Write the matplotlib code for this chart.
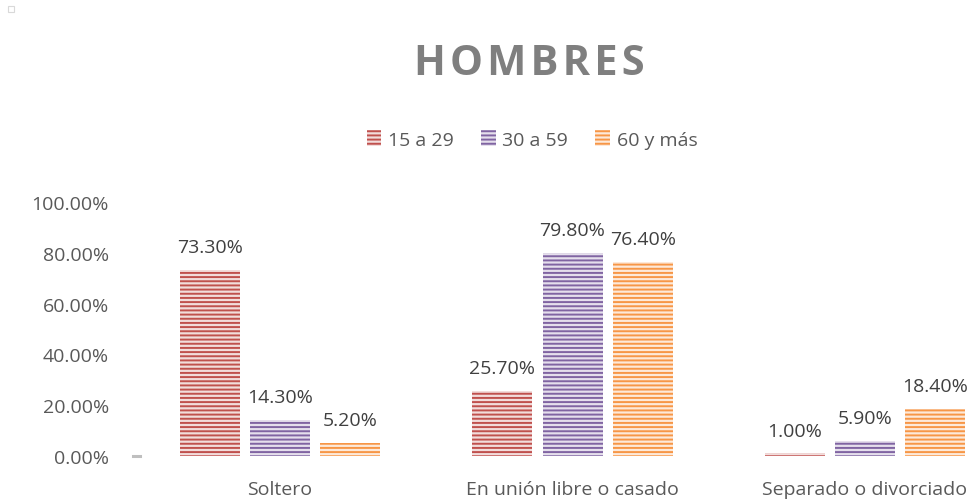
import matplotlib.pyplot as plt
import numpy as np
from matplotlib.patches import Rectangle

plt.rcParams['font.family'] = ['Open Sans', 'DejaVu Sans']
plt.rcParams['hatch.linewidth'] = 1.4

categories = ['Soltero', 'En unión libre o casado', 'Separado o divorciado']
series = ['15 a 29', '30 a 59', '60 y más']
values = {
    '15 a 29': [73.3, 25.7, 1.0],
    '30 a 59': [14.3, 79.8, 5.9],
    '60 y más': [5.2, 76.4, 18.4],
}
colors = ['#C0504D', '#8064A2', '#F79646']
light = ['#F2DCDB', '#E5DFEC', '#FDE9D9']

fig = plt.figure(figsize=(9.8, 5.02), dpi=100)
ax = fig.add_axes([120 / 980, 45 / 502, 860 / 980, 254 / 502])

x = np.arange(len(categories))
w = 0.205
step = 0.24
for i, s in enumerate(series):
    xs = x + (i - 1) * step
    ax.bar(xs, values[s], width=w, color=light[i], edgecolor=colors[i],
           hatch='----', linewidth=0, label=s)
    for xi, v in zip(xs, values[s]):
        ax.annotate(f'{v:.2f}%', (xi, v), xytext=(0, 10), textcoords='offset points',
                    ha='center', va='bottom', fontsize=14, color='#404040')

ax.set_xlim(-0.547, 2.393)
ax.set_ylim(0, 100)
ax.set_yticks(np.arange(0, 101, 20))
ax.set_yticklabels([f'{t:.2f}%' for t in range(0, 101, 20)])
ax.set_xticks(x)
ax.set_xticklabels(categories)
ax.tick_params(axis='both', length=0, labelsize=14, labelcolor='#595959')
ax.tick_params(axis='x', pad=17)
ax.tick_params(axis='y', pad=8)
for sp in ax.spines.values():
    sp.set_visible(False)

# little gray stub at the origin
ax.plot([-0.503, -0.479], [0, 0], color='#BFBFBF', lw=2.2, clip_on=False)

fig.text(0.54, 0.872, '\u200a'.join('HOMBRES'), ha='center', va='center', fontsize=30,
         fontweight='bold', color='#7F7F7F')

fig.legend(loc='center', bbox_to_anchor=(0.543, 0.72), ncol=3, frameon=False,
           fontsize=14, handlelength=0.75, handleheight=0.9, handletextpad=0.35,
           columnspacing=1.4, labelcolor='#595959')

fig.add_artist(Rectangle((8 / 980, 1 - 13 / 502), 6 / 980, 6 / 502,
                         transform=fig.transFigure, fill=False,
                         edgecolor='#D9D9D9', lw=0.8))

fig.savefig('out.png', dpi=100)
